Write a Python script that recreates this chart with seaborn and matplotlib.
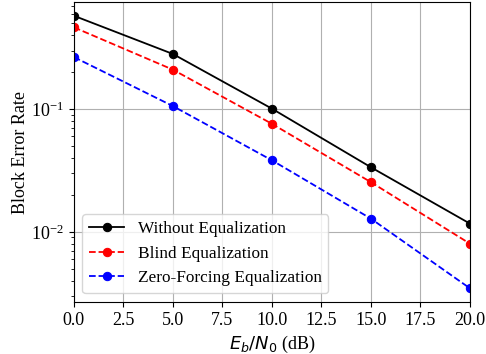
import matplotlib
matplotlib.use("Agg")
import matplotlib.pyplot as plt
import seaborn as sns
import pandas as pd

ebn0 = [0, 5, 10, 15, 20]
without_eq = [0.578, 0.282, 0.101, 0.0336, 0.01166]
blind_eq = [0.465, 0.21, 0.076, 0.0254, 0.0080]
zf_eq = [0.266, 0.106, 0.0383, 0.0128, 0.00346]
labels = ["Without Equalization", "Blind Equalization", "Zero-Forcing Equalization"]

plt.rcParams['font.family'] = ['Liberation Serif', 'DejaVu Serif']
plt.rcParams['font.size'] = 13

fig, ax = plt.subplots(figsize=(4.86, 3.54), dpi=100)

series = [(without_eq, 'black', '-'), (blind_eq, 'red', '--'), (zf_eq, 'blue', '--')]
for (vals, col, ls), lab in zip(series, labels):
    df = pd.DataFrame({'x': ebn0, 'y': vals})
    sns.lineplot(data=df, x='x', y='y', ax=ax, color=col, linestyle=ls,
                 marker='o', markersize=6, markeredgecolor=col, label=lab, linewidth=1.3)

ax.set_yscale('log')
ax.set_xlim(0, 20)
ax.set_xticks([0, 2.5, 5, 7.5, 10, 12.5, 15, 17.5, 20])
ax.set_xlabel(r'$E_b/N_0$ (dB)')
ax.set_ylabel('Block Error Rate', labelpad=1.8)
ax.grid(True, which='major', color='#b0b0b0', linewidth=0.8)
ax.legend(loc='lower left', fontsize=12.4)

fig.subplots_adjust(left=0.152, right=0.967, top=0.994, bottom=0.147)
fig.savefig('out.png', dpi=100)
